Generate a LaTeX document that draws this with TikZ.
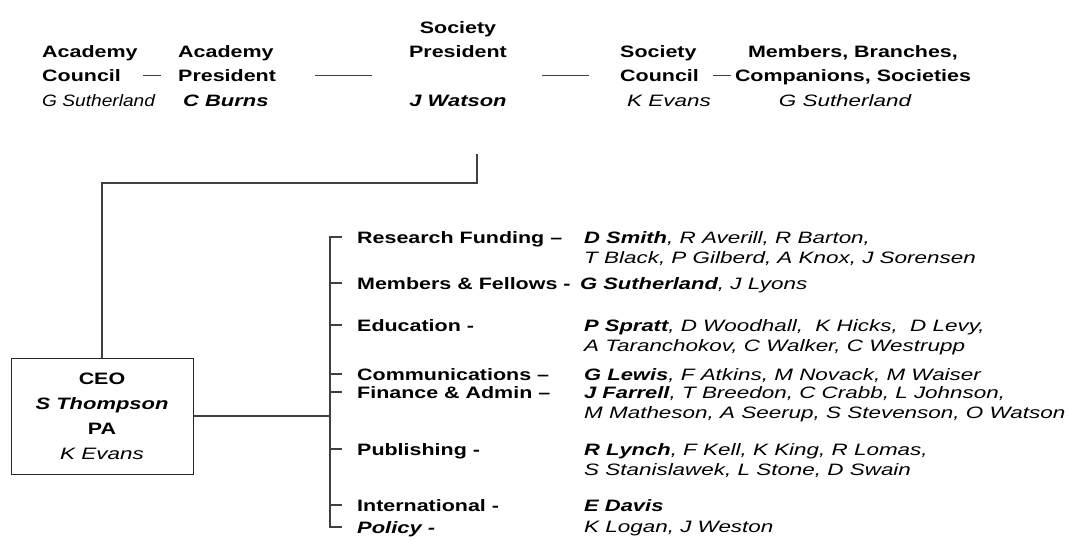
\documentclass[tikz,border=0pt]{standalone}
\usepackage{fontspec}
\setmainfont{Liberation Sans}[
  UprightFeatures={FakeStretch=1.3},
  BoldFeatures={FakeStretch=1.3},
  ItalicFeatures={FakeStretch=1.36},
  BoldItalicFeatures={FakeStretch=1.33}]
\newfontfamily\narrowsans{Liberation Sans}[ItalicFeatures={FakeStretch=1.16}]
\newcommand{\nm}[1]{{\mdseries\itshape #1}}
\begin{document}
\begin{tikzpicture}[x=1pt,y=-1pt,
    every node/.style={inner sep=0pt},
    head/.style={font=\fontsize{16.5}{24.5}\selectfont\bfseries, align=left},
    dept/.style={font=\fontsize{16.5}{20.5}\selectfont\bfseries, anchor=base west, text height=13pt, text depth=1pt},
    staff/.style={font=\fontsize{16.5}{20.5}\selectfont\itshape, align=left, anchor=north west},
    link/.style={draw=black!75, line width=1.1pt}]
  \useasboundingbox (0,0) rectangle (1071,539);
  % top row
  \node[head, anchor=north west] (ac) at (42,45) {Academy\\Council\\{\narrowsans\mdseries\itshape G Sutherland}};
  \node[head, anchor=north west] (ap) at (178,45) {Academy\\President\\\hspace*{5pt}\textit{C Burns}};
  \node[head, anchor=north, align=center] (sp) at (458,21) {Society\\President\\[24.5pt]\textit{J Watson}};
  \node[head, anchor=north west] (sc) at (620,45) {Society\\Council\\\hspace*{7pt}\nm{K Evans}};
  \node[head, anchor=north, align=center] (mb) at (853,45) {Members, Branches,\\Companions, Societies\\\nm{G Sutherland}\hspace*{16pt}};
  \draw[link] ([xshift=-17pt]ap.west) -- ++(-18,0);
  \draw[link] ([xshift=39pt]ap.east) -- ++(57,0);
  \draw[link] ([xshift=-31pt]sc.west) -- ++(-47,0);
  \draw[link] ([xshift=-4pt]mb.west) -- ++(-18,0);
  % chief executive
  \node[draw=black!85, line width=1pt, minimum width=182pt, minimum height=116pt, align=center,
        font=\fontsize{16.5}{25}\selectfont\bfseries] (ceo) at (102,416)
        {CEO\\\textit{S Thompson}\\PA\\\nm{K Evans}};
  \coordinate (drop) at (477,154);
  \coordinate (bus) at (330,0);
  \draw[link] (drop) -- ++(0,29) -| (ceo.north);
  % departments
  \node[dept] (rf) at (357,243) {Research Funding –};
  \node[dept] (mf) at (357,289) {Members \& Fellows -};
  \node[dept] (ed) at (357,331) {Education -};
  \node[dept] (co) at (357,380) {Communications –};
  \node[dept] (fi) at (357,398) {Finance \& Admin –};
  \node[dept] (pu) at (357,455) {Publishing -};
  \node[dept] (intl) at (357,511) {International -};
  \node[dept] (po) at (357,533) {\textit{Policy -}};
  % staff
  \node[staff] (rfs) at (584,231) {\textbf{D Smith}, R Averill, R Barton,\\T Black, P Gilberd, A Knox, J Sorensen};
  \node[staff] (mfs) at (580,277) {\textbf{G Sutherland}, J Lyons};
  \node[staff] (eds) at (584,319) {\textbf{P Spratt}, D Woodhall,\ \ K Hicks,\ \ D Levy,\\A Taranchokov, C Walker, C Westrupp};
  \node[staff] (cos) at (584,368) {\textbf{G Lewis}, F Atkins, M Novack, M Waiser};
  \node[staff] (fis) at (584,386) {\textbf{J Farrell}, T Breedon, C Crabb, L Johnson,\\M Matheson, A Seerup, S Stevenson, O Watson};
  \node[staff] (pus) at (584,443) {\textbf{R Lynch}, F Kell, K King, R Lomas,\\S Stanislawek, L Stone, D Swain};
  \node[staff] (intls) at (584,499) {\textbf{E Davis}};
  \node[staff] (pos) at (584,521) {K Logan, J Weston};
  % bracket
  \draw[link] (bus |- rf.west) ++(12,0) -- (bus |- rf.west) -- (bus |- po.west) -- ++(12,0);
  \foreach \d in {mf,ed,co,fi,pu,intl}
    \draw[link] (bus |- \d.west) -- ++(12,0);
  \draw[link] (ceo.east) -- (ceo.east -| bus);
\end{tikzpicture}
\end{document}
